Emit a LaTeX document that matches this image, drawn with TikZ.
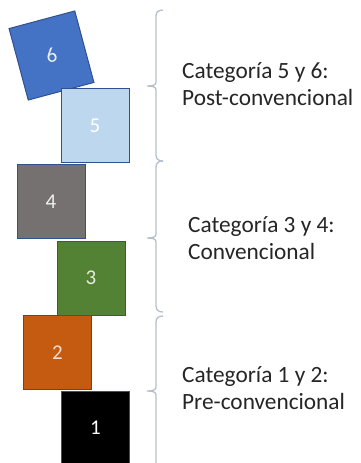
\documentclass[tikz,border=0pt]{standalone}
\usepackage{fontspec}
\setmainfont{Carlito}
\definecolor{cSix}{HTML}{4472C4}
\definecolor{cFive}{HTML}{BDD7EE}
\definecolor{cFour}{HTML}{767171}
\definecolor{cThree}{HTML}{548235}
\definecolor{cTwo}{HTML}{C55A11}
\definecolor{cOne}{HTML}{000000}
\definecolor{cEdge}{HTML}{2F528F}
\definecolor{cBrace}{HTML}{B4C0CE}
\definecolor{cText}{HTML}{262626}
\newcommand{\bracepath}[3]{% top, mid, bottom
  \draw[bracebar] (163,#1) .. controls (158.5,#1) and (156,#1+2) .. (156,#1+6)
    -- (156,#2-4) .. controls (156,#2-1) and (153,#2) .. (147,#2)
    .. controls (153,#2) and (156,#2+1) .. (156,#2+4)
    -- (156,#3-6) .. controls (156,#3-2) and (158.5,#3) .. (163,#3);}
\begin{document}
\begin{tikzpicture}[x=1pt,y=-1pt,
  blockbox/.style={draw=cEdge, line width=1pt, minimum width=68pt, minimum height=74pt,
    inner sep=0pt, font=\fontsize{21}{23}\selectfont},
  bracebar/.style={draw=cBrace, line width=1.3pt},
  labeltext/.style={anchor=west, align=left, text=cText, inner sep=0pt,
    font=\fontsize{23.3}{27.5}\selectfont}]
\useasboundingbox (0,0) rectangle (360,463);
\fill[white] (0,0) rectangle (360,463);
% blocks
\node[blockbox, fill=cSix, rotate=15, text=white!88!cSix] (b6) at (51.5,55.5) {6};
\node[blockbox, fill=cFive, text=white] (b5) at (95,125.5) {5};
\node[blockbox, fill=cFour, text=white!90!cFour] (b4) at (51,201.5) {4};
\node[blockbox, fill=cThree, text=white!85!cThree] (b3) at (91,278) {3};
\node[blockbox, fill=cTwo, text=white!80!cTwo] (b2) at (57.5,352.5) {2};
\node[blockbox, fill=cOne, text=white] (b1) at (95.5,428) {1};
% braces
\bracepath{10}{86}{161}
\bracepath{161}{238}{312}
\bracepath{316}{391}{470}
% labels
\node[labeltext] (l1) at (182,84) {Categoría 5 y 6:\\Post-convencional};
\node[labeltext] (l2) at (188,238) {Categoría 3 y 4:\\Convencional};
\node[labeltext] (l3) at (182,388) {Categoría 1 y 2:\\Pre-convencional};
\end{tikzpicture}
\end{document}
